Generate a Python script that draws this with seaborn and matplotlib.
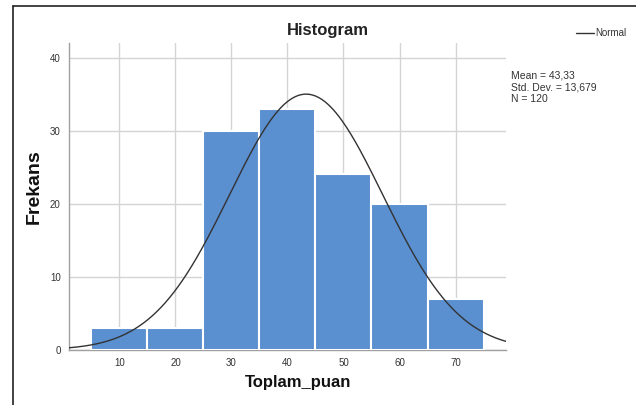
import matplotlib
matplotlib.use("Agg")
import matplotlib.pyplot as plt
from matplotlib.lines import Line2D
import seaborn as sns
import numpy as np
import pandas as pd

# histogram of Toplam_puan (bin centres and counts)
bin_centers = [10, 20, 30, 40, 50, 60, 70]
counts = [3, 3, 30, 33, 24, 20, 7]
bin_edges = [5, 15, 25, 35, 45, 55, 65, 75]

mean = 43.33
std_dev = 13.679
n = 120
bin_width = 10

sns.set_style("white")
plt.rcParams["font.family"] = ["Liberation Sans", "DejaVu Sans"]

fig = plt.figure(figsize=(6.36, 4.05), dpi=100)
ax = fig.add_axes([0.1085, 0.136, 0.687, 0.758])

df = pd.DataFrame({"x": bin_centers, "count": counts})
sns.histplot(data=df, x="x", weights="count", bins=bin_edges, color="#5A8FD0",
             alpha=1, edgecolor="white", linewidth=1.5, ax=ax, zorder=3)

# fitted normal curve scaled to the counts
xs = np.linspace(1, 79, 300)
ys = n * bin_width / (std_dev * np.sqrt(2 * np.pi)) * np.exp(-0.5 * ((xs - mean) / std_dev) ** 2)
sns.lineplot(x=xs, y=ys, color="#333333", linewidth=1, ax=ax, zorder=4)

ax.set_xlim(1, 79)
ax.set_ylim(0, 42)
ax.set_xticks(bin_centers)
ax.set_yticks([0, 10, 20, 30, 40])
ax.grid(True, color="#d4d4d4", linewidth=1, zorder=0)
ax.set_axisbelow(True)
ax.tick_params(length=0, labelsize=7, colors="#333333", pad=6)
for s in ["top", "right"]:
    ax.spines[s].set_visible(False)
for s in ["left", "bottom"]:
    ax.spines[s].set_color("#a0a0a0")
    ax.spines[s].set_linewidth(1)

fig.text(328 / 636, 1 - 31 / 405, "Histogram", fontsize=12, fontweight="bold",
         color="#222222", ha="center", va="center")
ax.set_xlabel("Toplam_puan", fontsize=12, fontweight="bold", color="#111111")
ax.set_ylabel("Frekans", fontsize=14, fontweight="bold", color="#111111")
ax.xaxis.set_label_coords((298 - 69) / 437, -(383 - 350) / 307)
ax.yaxis.set_label_coords(-(69 - 34) / 437, (350 - 187) / 307)
ax.xaxis.label.set_va("center")
ax.yaxis.label.set_va("center")

# legend and stats box at the right
fig.add_artist(Line2D([576 / 636, 594 / 636], [1 - 33 / 405, 1 - 33 / 405], color="#333333", linewidth=1))
fig.text(595 / 636, 1 - 33 / 405, "Normal", fontsize=7, va="center", ha="left", color="#333333")
stats = "\n".join([
    "Mean = " + f"{mean:.2f}".replace(".", ","),
    "Std. Dev. = " + f"{std_dev:.3f}".replace(".", ","),
    f"N = {n}",
])
fig.text(511 / 636, 1 - 70 / 405, stats, fontsize=7.5, va="top", ha="left",
         color="#333333", linespacing=1.25)

# outer frame (top and left edges)
fig.add_artist(Line2D([13 / 636, 1], [1 - 6 / 405, 1 - 6 / 405], color="#222222", linewidth=1.2))
fig.add_artist(Line2D([13 / 636, 13 / 636], [0, 1 - 6 / 405], color="#222222", linewidth=1.2))

fig.savefig("out.png", dpi=100)
